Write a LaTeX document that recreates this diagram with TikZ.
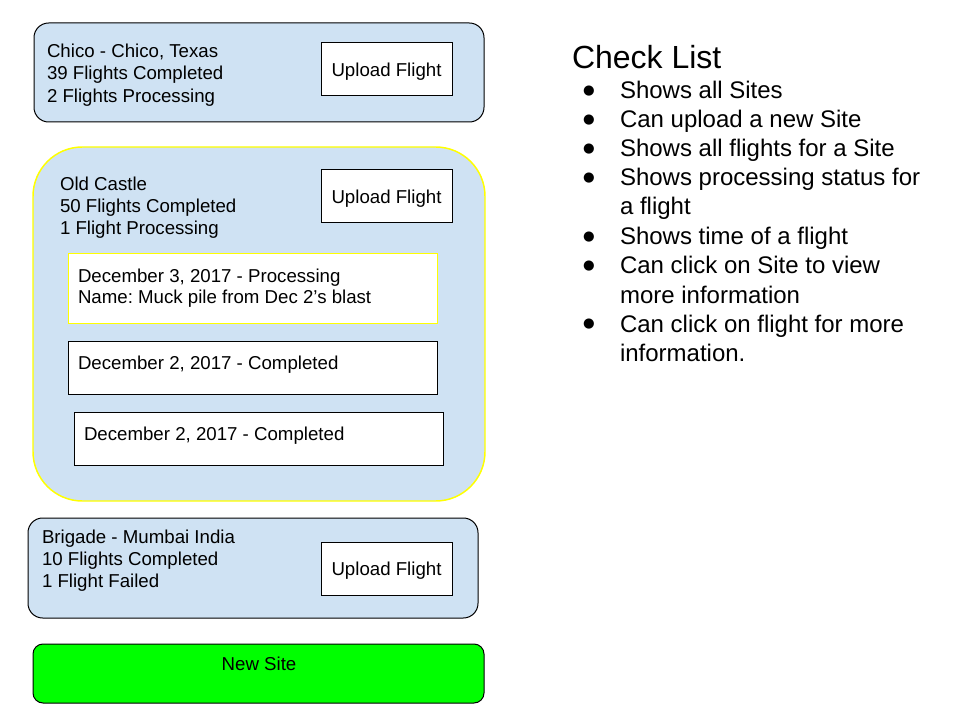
\documentclass[tikz,border=0pt]{standalone}
\usepackage{fontspec}
\setmainfont{Liberation Sans}
\newfontfamily\symfont{DejaVu Sans}
\definecolor{siteblue}{HTML}{CFE2F3}
\definecolor{newgreen}{HTML}{00FF00}
\definecolor{hiyellow}{HTML}{FFFF00}
\frenchspacing
\begin{document}
\begin{tikzpicture}[x=0.75pt,y=-0.75pt,
  every node/.style={inner sep=0pt, outer sep=0pt},
  sitebox/.style={draw=black, line width=0.75pt, fill=siteblue, rounded corners=11pt, anchor=north west},
  activebox/.style={draw=hiyellow, line width=1.1pt, fill=siteblue, rounded corners=37pt, anchor=north west},
  uploadbox/.style={draw=black, line width=0.75pt, fill=white, anchor=north west, minimum width=98.25pt, minimum height=39.75pt},
  flightbox/.style={draw=black, line width=0.75pt, fill=white, anchor=north west, minimum width=276.75pt, minimum height=39.75pt},
  boxtext/.style={font=\fontsize{14}{16.5}\selectfont, align=left, anchor=base west},
  uptext/.style={font=\fontsize{14}{16.5}\selectfont, anchor=base},
  listtext/.style={font=\fontsize{18}{21.75}\selectfont, align=left, anchor=base west},
  bulletmark/.style={font=\symfont\fontsize{10}{12}\selectfont, anchor=center}
]
\useasboundingbox (0,0) rectangle (960,720);
\fill[white] (0,0) rectangle (960,720);

% Chico
\node[sitebox, minimum width=337.5pt, minimum height=74.25pt] (chico) at (34,23) {};
\node[boxtext, font=\fontsize{14}{16.9}\selectfont] (chicotext) at (47,102.5) {Chico - Chico, Texas\\39 Flights Completed\\2 Flights Processing};
\node[uploadbox] (up1) at (321,43) {};
\node[uptext] (up1t) at (386.5,77) {Upload Flight};

% Old Castle
\node[activebox, minimum width=339pt, minimum height=265.5pt] (castle) at (33,147) {};
\node[boxtext] (castletext) at (60,235) {Old Castle\\50 Flights Completed\\1 Flight Processing};
\node[uploadbox] (up2) at (321,170) {};
\node[uptext] (up2t) at (386.5,204) {Upload Flight};

\node[flightbox, draw=hiyellow, minimum height=51.75pt] (fl1) at (68,254) {};
\node[boxtext] (fl1t) at (78,304) {December 3, 2017 - Processing\\Name: Muck pile from Dec 2’s blast};
\node[flightbox] (fl2) at (68,341) {};
\node[boxtext] (fl2t) at (78,369) {December 2, 2017 - Completed};
\node[flightbox] (fl3) at (74,412) {};
\node[boxtext] (fl3t) at (84,440) {December 2, 2017 - Completed};

% Brigade
\node[sitebox, minimum width=337.5pt, minimum height=75pt] (brigade) at (28,518) {};
\node[boxtext] (brigadetext) at (42,587) {Brigade - Mumbai India\\10 Flights Completed\\1 Flight Failed};
\node[uploadbox] (up3) at (321,542) {};
\node[uptext] (up3t) at (386.5,575.5) {Upload Flight};

% New Site
\node[sitebox, fill=newgreen, rounded corners=7.5pt, minimum width=338.25pt, minimum height=44.25pt] (newsite) at (33,644) {};
\node[uptext] (newsitet) at (259,670) {New Site};

% Check list
\node[font=\fontsize{24}{28}\selectfont, anchor=base west] (title) at (572,68.5) {Check List};
\foreach \by/\ty/\txt [count=\i] in {99/99/{Shows all Sites}, 128/128/{Can upload a new Site}, 157/157/{Shows all flights for a Site}, 186/215/{Shows processing status for\\a flight}, 245/245/{Shows time of a flight}, 274/303/{Can click on Site to view\\more information}, 332/361/{Can click on flight for more\\information.}}{
  \node[bulletmark] (b\i) at (589,\by-8) {●};
  \node[listtext] (item\i) at (620,\ty) {\txt};
}
\end{tikzpicture}
\end{document}
